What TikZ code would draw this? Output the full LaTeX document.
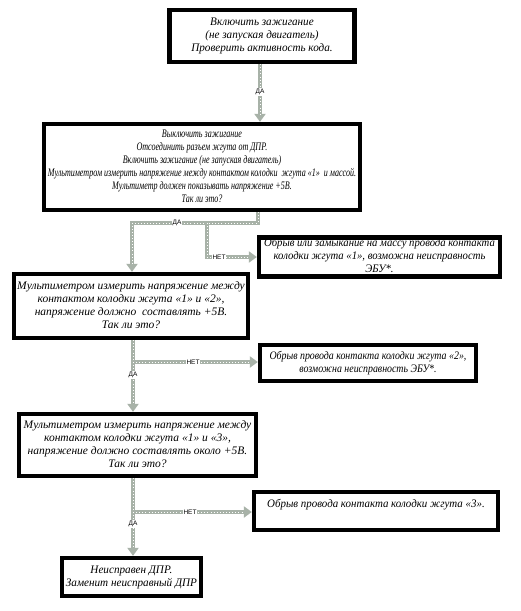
\documentclass[tikz,border=0pt]{standalone}
\usepackage{fontspec}
\setmainfont{Liberation Serif}
\newfontfamily\lblfont{Liberation Sans}
\usepackage{graphicx}
\usetikzlibrary{arrows.meta,calc}
\definecolor{conngray}{RGB}{168,178,168}
\newcommand{\bt}[2]{\scalebox{#1}[1]{\fontsize{11.5}{13}\selectfont\itshape\begin{tabular}{@{}c@{}}#2\end{tabular}}}
\tikzset{
  box/.style={draw=black, line width=4.3pt, fill=white, inner sep=0pt, rectangle},
  conn/.style={draw=conngray, line width=4pt, -{Triangle[width=11pt,length=8pt]},
     postaction={draw=white, line width=0.9pt, dash pattern=on 0.9pt off 2.2pt, arrows=-, shorten >=8pt}},
  lbl/.style={font=\lblfont\fontsize{6.5}{7}\selectfont, fill=white, inner sep=0.8pt}
}
\begin{document}
\begin{tikzpicture}[x=1pt,y=-1pt]
\fill[white] (0,0) rectangle (521,611);
\useasboundingbox (0,0) rectangle (521,611);

\node[box, minimum width=185pt, minimum height=52pt] (b1) at (262,36)
  {\bt{0.97}{Включить зажигание\\(не запуская двигатель)\\Проверить активность кода.}};
\node[box, minimum width=316pt, minimum height=86pt] (b2) at (202,167)
  {\bt{0.7}{Выключить зажигание\\Отсоединить разъем жгута от ДПР.\\Включить зажигание (не запуская двигатель)\\Мультиметром измерить напряжение между контактом колодки \ жгута «1» \ и массой.\\Мультиметр должен показывать напряжение +5В.\\Так ли это?}};
\node[box, minimum width=241pt, minimum height=38pt] (b3) at (379.5,257)
  {\bt{0.93}{Обрыв или замыкание на массу провода контакта\\колодки жгута «1», возможна неисправность\\ЭБУ*.}};
\node[box, minimum width=234pt, minimum height=64pt] (b4) at (131,306)
  {\bt{1}{Мультиметром измерить напряжение между\\контактом колодки жгута «1» и «2»,\\напряжение должно \ составлять +5В.\\Так ли это?}};
\node[box, minimum width=216pt, minimum height=36pt] (b6) at (368,363)
  {\bt{0.86}{Обрыв провода контакта колодки жгута «2»,\\возможна неисправность ЭБУ*.}};
\node[box, minimum width=237pt, minimum height=62pt] (b5) at (137.5,445)
  {\bt{1}{Мультиметром измерить напряжение между\\контактом колодки жгута «1» и «3»,\\напряжение должно составлять около +5В.\\Так ли это?}};
\node[box, minimum width=244pt, minimum height=38pt] (b7) at (376,511)
  {\bt{0.95}{Обрыв провода контакта колодки жгута «3».\\ \mbox{}}};
\node[box, minimum width=139pt, minimum height=38pt] (b8) at (131.5,577)
  {\bt{0.97}{Неисправен ДПР.\\Заменит неисправный ДПР}};

\coordinate (j1) at (207,223);
\coordinate (j2) at (133,362);
\coordinate (j3) at (133,512);

\draw[conn] (b1.south -| 260,0) -- (b2.north -| 260,0);
\draw[conn] (b2.south -| 258,0) -- (258,223) -| (b4.north -| 132,0);
\draw[conn] (j1) |- (b3.west);
\draw[conn] (b4.south -| 133,0) -- (b5.north -| 133,0);
\draw[conn] (j2) -- (j2 -| b6.west);
\draw[conn] (b5.south -| 133,0) -- (b8.north -| 133,0);
\draw[conn] (j3) -- (j3 -| b7.west);

\node[lbl] (l1) at (260,92) {ДА};
\node[lbl] (l2) at (177,223) {ДА};
\node[lbl] (l3) at (219,257) {НЕТ};
\node[lbl] (l4) at (193,362) {НЕТ};
\node[lbl] (l5) at (133,375) {ДА};
\node[lbl] (l6) at (190,512) {НЕТ};
\node[lbl] (l7) at (133,524) {ДА};
\end{tikzpicture}
\end{document}
